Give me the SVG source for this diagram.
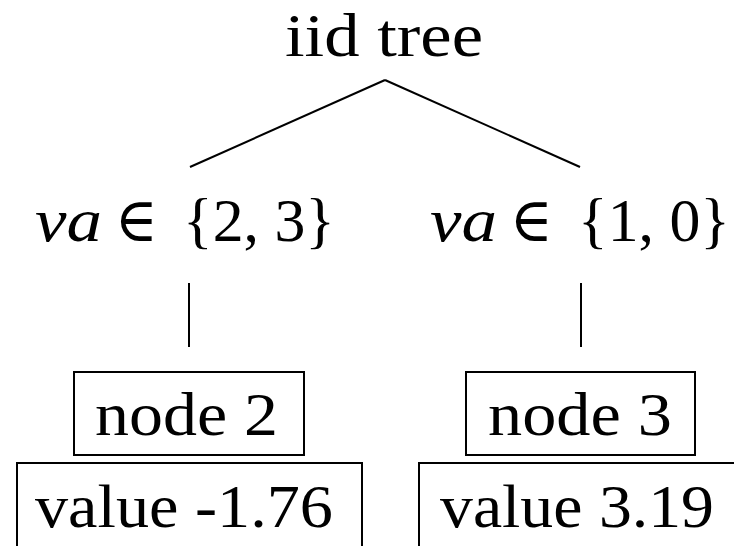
<svg xmlns="http://www.w3.org/2000/svg" width="734" height="546" viewBox="0 0 734 546">
<style>
text{font-family:"Liberation Serif","DejaVu Serif",serif;font-size:62px;fill:#000}
.it{font-style:italic}
.ln{stroke:#000;stroke-width:2;fill:none}
.box{stroke:#000;stroke-width:2;fill:#fff}
</style>
<rect width="734" height="546" fill="#fff"/>
<g id="connectors">
<line class="ln" x1="385" y1="80" x2="190" y2="167"/>
<line class="ln" x1="385" y1="80" x2="580" y2="167"/>
<line class="ln" x1="189" y1="283" x2="189" y2="347"/>
<line class="ln" x1="581" y1="283" x2="581" y2="347"/>
</g>
<g id="root"><text x="285" y="56" textLength="198" lengthAdjust="spacingAndGlyphs">iid tree</text></g>
<g id="branch-left">
<text class="it" x="35" y="241" textLength="67" lengthAdjust="spacingAndGlyphs">va</text>
<text x="115" y="241" textLength="43" lengthAdjust="spacingAndGlyphs">∈</text>
<text x="183" y="241" textLength="152" lengthAdjust="spacingAndGlyphs">{2, 3}</text>
</g>
<g id="branch-right">
<text class="it" x="430" y="241" textLength="67" lengthAdjust="spacingAndGlyphs">va</text>
<text x="510" y="241" textLength="43" lengthAdjust="spacingAndGlyphs">∈</text>
<text x="578" y="241" textLength="152" lengthAdjust="spacingAndGlyphs">{1, 0}</text>
</g>
<g id="node2">
<rect class="box" x="74" y="372" width="230" height="83"/>
<text x="95" y="435" textLength="183" lengthAdjust="spacingAndGlyphs">node 2</text>
</g>
<g id="value2">
<rect class="box" x="17" y="463" width="345" height="90"/>
<text x="35" y="527" textLength="298" lengthAdjust="spacingAndGlyphs">value -1.76</text>
</g>
<g id="node3">
<rect class="box" x="466" y="372" width="229" height="83"/>
<text x="488" y="435" textLength="184" lengthAdjust="spacingAndGlyphs">node 3</text>
</g>
<g id="value3">
<rect class="box" x="419" y="463" width="330" height="90"/>
<text x="440" y="527" textLength="274" lengthAdjust="spacingAndGlyphs">value 3.19</text>
</g>
</svg>
